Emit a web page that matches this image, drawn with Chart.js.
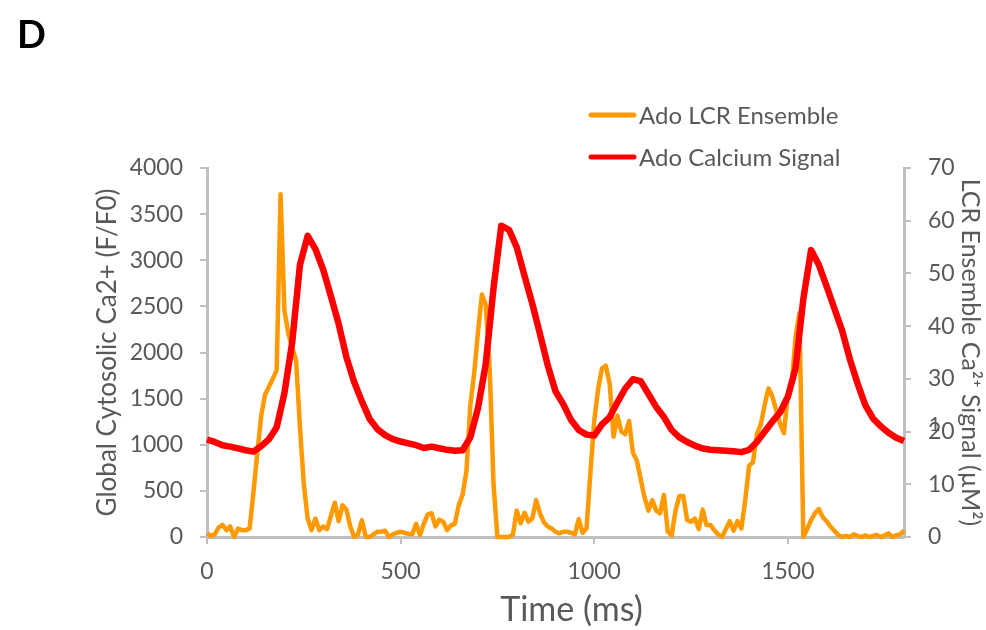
<!DOCTYPE html>
<html>
<head>
<meta charset="utf-8">
<script src="https://cdn.jsdelivr.net/npm/chart.js@4.4.1/dist/chart.umd.min.js"></script>
<style>
  html, body { margin: 0; padding: 0; background: #fff; }
  #wrap { width: 986px; height: 630px; position: relative; }
</style>
</head>
<body>
<div id="wrap"><canvas id="caChart"></canvas></div>
<script>
// LCR ensemble (right axis), sampled every 10 ms
const lcrTime = [
  0, 10, 20, 30, 40, 50, 60, 70, 80, 90,
  100, 110, 120, 130, 140, 150, 160, 170, 180, 190,
  200, 210, 220, 230, 240, 250, 260, 270, 280, 290,
  300, 310, 320, 330, 340, 350, 360, 370, 380, 390,
  400, 410, 420, 430, 440, 450, 460, 470, 480, 490,
  500, 510, 520, 530, 540, 550, 560, 570, 580, 590,
  600, 610, 620, 630, 640, 650, 660, 670, 680, 690,
  700, 710, 720, 730, 740, 750, 760, 770, 780, 790,
  800, 810, 820, 830, 840, 850, 860, 870, 880, 890,
  900, 910, 920, 930, 940, 950, 960, 970, 980, 990,
  1000, 1010, 1020, 1030, 1040, 1050, 1060, 1070, 1080, 1090,
  1100, 1110, 1120, 1130, 1140, 1150, 1160, 1170, 1180, 1190,
  1200, 1210, 1220, 1230, 1240, 1250, 1260, 1270, 1280, 1290,
  1300, 1310, 1320, 1330, 1340, 1350, 1360, 1370, 1380, 1390,
  1400, 1410, 1420, 1430, 1440, 1450, 1460, 1470, 1480, 1490,
  1500, 1510, 1520, 1530, 1540, 1550, 1560, 1570, 1580, 1590,
  1600, 1610, 1620, 1630, 1640, 1650, 1660, 1670, 1680, 1690,
  1700, 1710, 1720, 1730, 1740, 1750, 1760, 1770, 1780, 1790,
  1800
];
const lcrSignal = [
  0.7, 0.2, 0.5, 1.8, 2.3, 1.3, 2.0, 0, 1.6, 1.3,
  1.3, 1.6, 8.5, 16, 23, 27, 28.5, 30, 31.7, 65,
  43, 38.6, 36, 33.5, 21, 10, 3.5, 1.3, 3.5, 1.3,
  2.0, 1.5, 4, 6.5, 3, 6, 5.2, 2, 0, 0.5,
  3.2, 0, 0, 0.5, 1, 1, 1.2, 0, 0.5, 0.8,
  1, 0.8, 0.6, 0.5, 2.5, 0.4, 2.5, 4.3, 4.5, 2,
  3.3, 2.9, 1.3, 2.2, 2.5, 6, 8, 12.5, 25, 31,
  39, 46, 44, 32, 10, 0, 0, 0, 0, 0.5,
  5, 2.6, 4.6, 2.9, 3.5, 7, 4.5, 2.8, 2, 1.6,
  1, 0.7, 1, 1, 0.8, 0.5, 3.4, 0.8, 1.6, 12,
  22, 28, 32, 32.5, 29, 19, 23, 20, 19.5, 22,
  16, 14.5, 11, 7.5, 5, 7, 5, 4.5, 8, 1,
  0.3, 5, 7.8, 7.8, 3.2, 2.9, 3.5, 1.5, 5.2, 2.3,
  2.3, 1.3, 0.5, 0, 1.5, 3, 1.2, 3, 1.6, 7,
  13.5, 14.2, 19.5, 21.3, 25, 28.2, 26.7, 24, 21.5, 19.7,
  27, 29, 38, 42.5, 0, 1.5, 3.2, 4.5, 5.3, 3.8,
  3, 2, 1.2, 0.4, 0, 0.2, 0, 0.5, 0.2, 0,
  0.3, 0, 0.2, 0.4, 0, 0.3, 0.7, 0, 0.3, 0.5,
  1.2
];

// global cytosolic calcium (left axis), sampled every 20 ms
const caTime = [
  0, 20, 40, 60, 80, 100, 120, 140, 160, 180,
  200, 220, 240, 260, 280, 300, 320, 340, 360, 380,
  400, 420, 440, 460, 480, 500, 520, 540, 560, 580,
  600, 620, 640, 660, 680, 700, 720, 740, 760, 780,
  800, 820, 840, 860, 880, 900, 920, 940, 960, 980,
  1000, 1020, 1040, 1060, 1080, 1100, 1120, 1140, 1160, 1180,
  1200, 1220, 1240, 1260, 1280, 1300, 1320, 1340, 1360, 1380,
  1400, 1420, 1440, 1460, 1480, 1500, 1520, 1540, 1560, 1580,
  1600, 1620, 1640, 1660, 1680, 1700, 1720, 1740, 1760, 1780,
  1800
];
const caSignal = [
  1055, 1030, 995, 980, 960, 940, 925, 985, 1060, 1190,
  1560, 2110, 2950, 3265, 3120, 2900, 2610, 2310, 1950, 1680,
  1470, 1280, 1170, 1105, 1060, 1035, 1015, 995, 965, 980,
  962, 945, 935, 940, 1080, 1400, 1880, 2700, 3375, 3330,
  3140, 2830, 2530, 2200, 1860, 1580, 1440, 1270, 1160, 1110,
  1100, 1220, 1300, 1460, 1610, 1710, 1690, 1550, 1410, 1300,
  1160, 1080, 1030, 990, 960, 945, 940, 935, 930, 920,
  945, 1030, 1140, 1250, 1350, 1520, 1830, 2580, 3110, 2950,
  2720, 2480, 2240, 1930, 1666, 1430, 1285, 1200, 1130, 1075,
  1040
];

const seriesNames = ['Ado LCR Ensemble', 'Ado Calcium Signal'];
const timeTicks = [0, 500, 1000, 1500];

Chart.defaults.font.family = 'Lato';
Chart.defaults.color = '#595959';

// panel letter, legend and x title drawn by hand
const extras = {
  id: 'extras',
  afterDraw(chart) {
    const ctx = chart.ctx;
    const area = chart.chartArea;
    ctx.save();
    ctx.fillStyle = '#000';
    ctx.font = 'bold 38px Lato';
    ctx.textAlign = 'left';
    ctx.textBaseline = 'alphabetic';
    ctx.fillText('D', 17, 48);

    ctx.fillStyle = '#595959';
    ctx.font = '34px Lato';
    ctx.textAlign = 'center';
    ctx.fillText('Time (ms)', (area.left + area.right) / 2 + 16, 621);

    ctx.font = '24px Lato';
    ctx.textAlign = 'left';
    ctx.textBaseline = 'middle';
    chart.data.datasets.forEach((ds, i) => {
      const y = 115 + i * 42;
      ctx.strokeStyle = ds.borderColor;
      ctx.lineWidth = 5;
      ctx.lineCap = 'round';
      ctx.beginPath();
      ctx.moveTo(591, y);
      ctx.lineTo(634, y);
      ctx.stroke();
      ctx.fillStyle = '#595959';
      ctx.fillText(ds.label, 639, y + 1);
    });

    // stray glyph seen behind the "20" label
    ctx.font = '20px Lato';
    ctx.fillText('1', 929, 425);
    ctx.restore();
  }
};

const axisGrey = '#bfbfbf';
const plain = v => String(v);

new Chart(document.getElementById('caChart'), {
  type: 'line',
  data: {
    datasets: [
      {
        label: seriesNames[0],
        data: lcrTime.map((t, i) => ({ x: t, y: lcrSignal[i] })),
        borderColor: '#FF9900',
        backgroundColor: '#FF9900',
        borderWidth: 4.5,
        borderJoinStyle: 'round',
        pointRadius: 0,
        tension: 0,
        clip: false,
        yAxisID: 'y1',
        order: 2
      },
      {
        label: seriesNames[1],
        data: caTime.map((t, i) => ({ x: t, y: caSignal[i] })),
        borderColor: '#FF0000',
        backgroundColor: '#FF0000',
        borderWidth: 6.5,
        borderJoinStyle: 'round',
        pointRadius: 0,
        tension: 0,
        clip: false,
        yAxisID: 'y',
        order: 1
      }
    ]
  },
  options: {
    animation: false,
    responsive: true,
    maintainAspectRatio: false,
    layout: { padding: { top: 168, left: 0, right: 0, bottom: 0 } },
    plugins: {
      legend: { display: false },
      tooltip: { enabled: false }
    },
    scales: {
      x: {
        type: 'linear',
        min: 0,
        max: 1800,
        afterBuildTicks: s => { s.ticks = timeTicks.map(v => ({ value: v })); },
        ticks: { padding: 14, font: { size: 23 }, maxRotation: 0, autoSkip: false, callback: plain },
        grid: { drawOnChartArea: false, drawTicks: true, tickLength: 7, color: axisGrey, lineWidth: 2 },
        border: { color: axisGrey, width: 3 },
        afterFit: s => { s.height = 93; }
      },
      y: {
        position: 'left',
        min: 0,
        max: 4000,
        ticks: { stepSize: 500, padding: 17, font: { size: 23 }, callback: plain },
        grid: { drawOnChartArea: false, drawTicks: true, tickLength: 7, color: axisGrey, lineWidth: 2 },
        border: { color: axisGrey, width: 3 },
        title: { display: true, text: 'Global Cytosolic Ca2+ (F/F0)', font: { size: 26 }, padding: { top: 92, bottom: 0 } },
        afterFit: s => { s.width = 207; }
      },
      y1: {
        position: 'right',
        min: 0,
        max: 70,
        ticks: { stepSize: 10, padding: 17, font: { size: 23 }, callback: plain },
        grid: { drawOnChartArea: false, drawTicks: true, tickLength: 7, color: axisGrey, lineWidth: 2 },
        border: { color: axisGrey, width: 3 },
        title: { display: true, text: 'LCR Ensemble Ca²⁺ Signal (µM²)', font: { size: 25 }, padding: { top: 1, bottom: 0 } },
        afterFit: s => { s.width = 82; }
      }
    }
  },
  plugins: [extras]
});
</script>
</body>
</html>
